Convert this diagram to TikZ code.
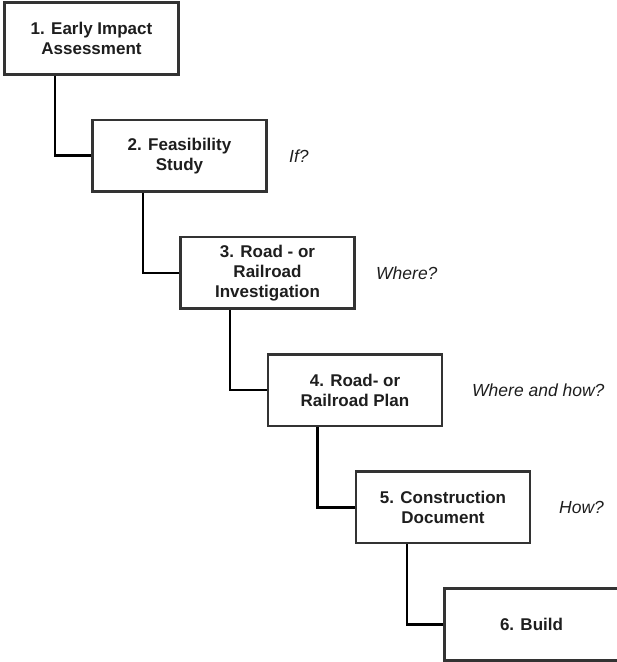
\documentclass[tikz,border=0pt]{standalone}
\usepackage{fontspec}
\setmainfont{Liberation Sans}
\usetikzlibrary{calc}
\definecolor{edge}{HTML}{333333}
\definecolor{ink}{HTML}{1E1E1E}
\tikzset{
  stage/.style={draw=edge, line width=2.6pt, fill=white, minimum width=174pt,
    minimum height=71.5pt, align=center, inner sep=0pt, text=ink,
    font=\fontsize{17}{20}\selectfont\bfseries},
  link/.style={draw=black, line width=2.6pt},
  query/.style={anchor=west, inner sep=0pt, text=ink,
    font=\fontsize{17.5}{20}\selectfont\itshape}
}
\begin{document}
\begin{tikzpicture}[x=1pt, y=-1pt]
\useasboundingbox (0,0) rectangle (617,662);
% stage centres, stepping down and to the right
\coordinate (c1) at (91.5,38.5);
\coordinate (c2) at (179.5,155.7);
\coordinate (c3) at (267.5,272.9);
\coordinate (c4) at (355.0,390.1);
\coordinate (c5) at (443.0,507.3);
\coordinate (c6) at (531.5,624.5);

\node[stage] (b1) at (c1) {1. Early Impact\\Assessment};
\node[stage] (b2) at (c2) {2. Feasibility\\Study};
\node[stage] (b3) at (c3) {3. Road - or\\Railroad\\Investigation};
\node[stage] (b4) at (c4) {4. Road- or\\Railroad Plan};
\node[stage] (b5) at (c5) {5. Construction\\Document};
\node[stage] (b6) at (c6) {6. Build};

% elbow connectors from each stage to the next
\draw[link] ($(b1.south)+(-36.5,0)$) |- (b2.west);
\draw[link] ($(b2.south)+(-36.5,0)$) |- (b3.west);
\draw[link] ($(b3.south)+(-37.5,0)$) |- (b4.west);
\draw[link] ($(b4.south)+(-37.5,0)$) |- (b5.west);
\draw[link] ($(b5.south)+(-36,0)$) |- (b6.west);

% questions answered at each stage
\node[query] (q2) at (289,155.7) {If?};
\node[query] (q3) at (376,272.9) {Where?};
\node[query] (q4) at (472,390.1) {Where and how?};
\node[query] (q5) at (559,507.3) {How?};
\end{tikzpicture}
\end{document}
